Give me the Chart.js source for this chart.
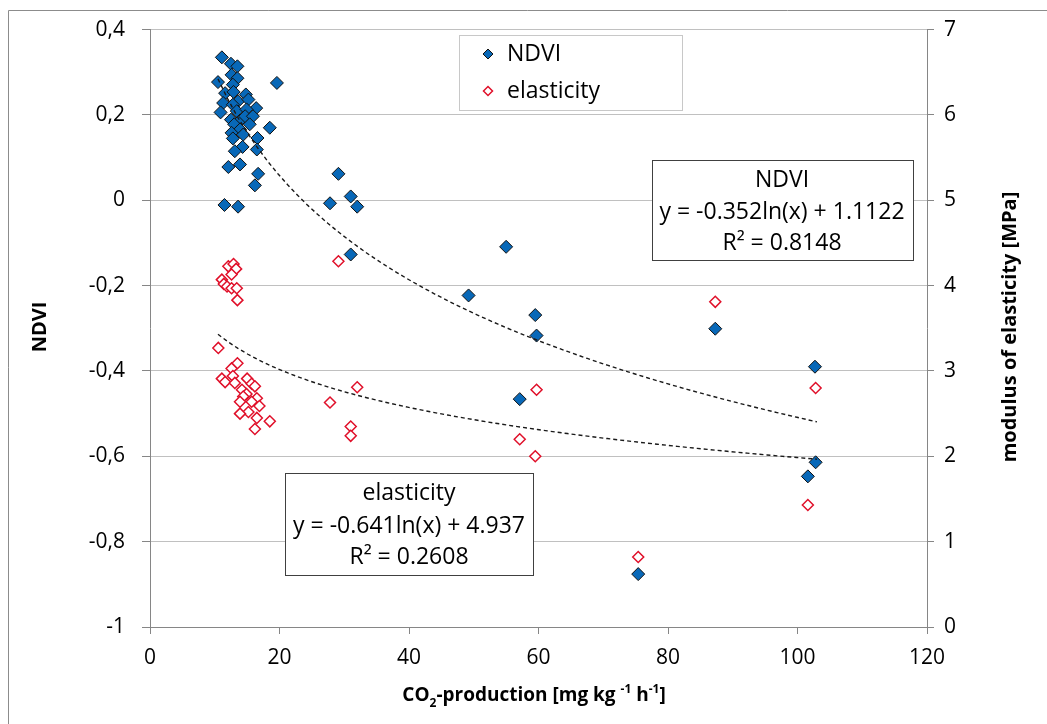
<!DOCTYPE html>
<html>
<head>
<meta charset="utf-8">
<script src="https://cdn.jsdelivr.net/npm/chart.js@4"></script>
<style>
  html, body { margin: 0; padding: 0; background: #fff; }
  #wrap { width: 1047px; height: 724px; position: relative; }
</style>
</head>
<body>
<div id="wrap"><canvas id="c" width="1047" height="724"></canvas></div>
<script>
'use strict';

const FONT = "'Open Sans', Lato, 'Liberation Sans', sans-serif";

// NDVI series: [CO2-production, NDVI]
const ndviPoints = [
  [11.1,0.335],[12.5,0.32],[13.5,0.314],[12.6,0.294],[13.5,0.286],[10.5,0.277],[19.6,0.275],
  [12.8,0.271],[11.6,0.251],[12.9,0.254],[14.8,0.248],[13.6,0.232],[15.2,0.236],[11.3,0.228],
  [12.8,0.224],[16.4,0.216],[10.9,0.206],[13.4,0.209],[14.9,0.213],[12.5,0.189],[13.9,0.187],
  [14.7,0.197],[15.9,0.197],[18.5,0.170],[13.0,0.178],[15.4,0.178],[13.9,0.166],[12.6,0.158],
  [14.4,0.154],[12.8,0.145],[16.6,0.146],[14.3,0.125],[16.5,0.119],[13.1,0.115],[13.9,0.084],
  [12.1,0.078],[16.7,0.062],[16.2,0.035],[11.5,-0.011],[13.6,-0.015],
  [29.1,0.062],[31.0,0.009],[27.8,-0.007],[32.0,-0.015],[31.0,-0.127],[55.0,-0.109],
  [49.2,-0.223],[59.5,-0.269],[59.7,-0.317],[57.1,-0.466],
  [87.3,-0.301],[102.7,-0.390],[102.8,-0.614],[101.6,-0.647],[75.4,-0.876]
];

// elasticity series: [CO2-production, modulus of elasticity MPa]
const elastPoints = [
  [12.1,4.226],[12.9,4.254],[13.3,4.196],[12.6,4.13],[11.1,4.07],[11.4,4.02],[11.9,3.99],
  [12.6,3.97],[13.4,3.97],[13.5,3.83],
  [10.55,3.27],[13.5,3.09],[12.6,3.03],[11.1,2.91],[11.6,2.87],[12.8,2.94],[13.1,2.86],
  [15.0,2.91],[15.7,2.85],[16.2,2.82],[14.2,2.78],[14.9,2.73],[14.4,2.70],[16.5,2.68],
  [13.9,2.64],[15.7,2.64],[16.9,2.59],[15.2,2.52],[13.9,2.50],[16.5,2.45],[18.5,2.41],[16.2,2.32],
  [29.1,4.285],[32.0,2.81],[27.8,2.63],[31.0,2.35],[31.0,2.24],[59.7,2.78],[57.1,2.20],[59.5,2.0],
  [87.3,3.81],[102.8,2.80],[101.6,1.43],[75.4,0.82]
];

// logarithmic trendlines as printed on the chart: y = a*ln(x) + b
const ndviTrend = [-0.352, 1.1122];
const elastTrend = [-0.641, 4.937];
const trendRange = [10.5, 103];

const xTicks = [0, 120, 20];
const yTicks = [-1, 0.4, 0.2];
const y2Ticks = [0, 7, 1];

function trendLine(coef) {
  const pts = [];
  for (let i = 0; i <= 60; i++) {
    const x = trendRange[0] + (trendRange[1] - trendRange[0]) * i / 60;
    pts.push({ x, y: coef[0] * Math.log(x) + coef[1] });
  }
  return pts;
}

const toXY = arr => arr.map(p => ({ x: p[0], y: p[1] }));
const commaNum = v => String(Math.round(v * 10) / 10).replace('.', ',');

function diamond(ctx, x, y, r, fill, stroke, lw) {
  ctx.beginPath();
  ctx.moveTo(x, y - r); ctx.lineTo(x + r, y); ctx.lineTo(x, y + r); ctx.lineTo(x - r, y);
  ctx.closePath();
  ctx.fillStyle = fill; ctx.fill();
  ctx.lineWidth = lw; ctx.strokeStyle = stroke; ctx.stroke();
}

function textBox(ctx, x, y, w, h, lines, cx, ys) {
  ctx.fillStyle = '#fff';
  ctx.fillRect(x, y, w, h);
  ctx.strokeStyle = '#404040'; ctx.lineWidth = 1;
  ctx.strokeRect(x + 0.5, y + 0.5, w, h);
  ctx.fillStyle = '#000';
  ctx.font = `23px ${FONT}`;
  ctx.textAlign = 'center'; ctx.textBaseline = 'middle';
  lines.forEach((t, i) => ctx.fillText(t, cx, ys[i]));
}

/* ── Overlay: frame, legend, equation boxes, axis titles ── */
const overlay = {
  id: 'overlay',
  afterDraw(chart) {
    const ctx = chart.ctx;
    ctx.save();

    // outer frame
    ctx.strokeStyle = '#8c8c8c'; ctx.lineWidth = 1;
    ctx.beginPath();
    ctx.moveTo(8.5, 724); ctx.lineTo(8.5, 10.5); ctx.lineTo(1047, 10.5);
    ctx.stroke();

    // legend
    ctx.fillStyle = '#fff';
    ctx.fillRect(459, 35, 224, 75);
    ctx.strokeStyle = '#c8c8c8';
    ctx.strokeRect(459.5, 35.5, 223, 75);
    diamond(ctx, 488, 54, 5, '#0868b8', '#111', 1);
    diamond(ctx, 488, 91, 4.5, '#fff', '#e0102a', 1.5);
    ctx.fillStyle = '#000';
    ctx.font = `23px ${FONT}`;
    ctx.textAlign = 'left'; ctx.textBaseline = 'middle';
    ctx.fillText('NDVI', 507, 54);
    ctx.fillText('elasticity', 507, 91);

    // equation boxes
    textBox(ctx, 652, 160, 261, 100,
      ['NDVI', 'y = -0.352ln(x) + 1.1122', 'R\u00b2 = 0.8148'], 782, [180, 212, 243]);
    textBox(ctx, 285, 473, 248, 102,
      ['elasticity', 'y = -0.641ln(x) + 4.937', 'R\u00b2 = 0.2608'], 409, [493, 526, 557]);

    // axis titles
    ctx.fillStyle = '#000';
    ctx.font = `bold 20px ${FONT}`;
    ctx.textAlign = 'center'; ctx.textBaseline = 'middle';
    ctx.save();
    ctx.translate(40, 327); ctx.rotate(-Math.PI / 2);
    ctx.fillText('NDVI', 0, 0);
    ctx.restore();
    ctx.save();
    ctx.translate(1010, 327); ctx.rotate(-Math.PI / 2);
    ctx.fillText('modulus of elasticity [MPa]', 0, 0);
    ctx.restore();

    // x title with sub/superscripts
    const big = `bold 19px ${FONT}`, small = `bold 12px ${FONT}`;
    const parts = [
      ['CO', big, 0], ['2', small, 6], ['-production [mg kg ', big, 0], ['-1', small, -8],
      [' h', big, 0], ['-1', small, -8], [']', big, 0]
    ];
    let total = 0;
    parts.forEach(p => { ctx.font = p[1]; total += ctx.measureText(p[0]).width; });
    let x = 534 - total / 2;
    ctx.textAlign = 'left'; ctx.textBaseline = 'alphabetic';
    parts.forEach(p => {
      ctx.font = p[1];
      ctx.fillText(p[0], x, 701 + p[2]);
      x += ctx.measureText(p[0]).width;
    });

    ctx.restore();
  }
};

const axisGrey = '#868686';

new Chart(document.getElementById('c').getContext('2d'), {
  type: 'scatter',
  data: {
    datasets: [
      {
        label: 'NDVI', data: toXY(ndviPoints), yAxisID: 'y', order: 2,
        pointStyle: 'rectRot', pointRadius: 6.5, pointHoverRadius: 6.5,
        backgroundColor: '#0868b8', borderColor: '#111', borderWidth: 1,
      },
      {
        label: 'elasticity', data: toXY(elastPoints), yAxisID: 'y2', order: 3,
        pointStyle: 'rectRot', pointRadius: 5.5, pointHoverRadius: 5.5,
        backgroundColor: '#fff', borderColor: '#e0102a', borderWidth: 1.5,
      },
      {
        label: 'NDVI trend', data: trendLine(ndviTrend), yAxisID: 'y', order: 1,
        showLine: true, pointRadius: 0, borderColor: '#1a1a1a', borderWidth: 1.4,
        borderDash: [4, 3], fill: false, tension: 0,
      },
      {
        label: 'elasticity trend', data: trendLine(elastTrend), yAxisID: 'y2', order: 1,
        showLine: true, pointRadius: 0, borderColor: '#1a1a1a', borderWidth: 1.4,
        borderDash: [4, 3], fill: false, tension: 0,
      },
    ],
  },
  options: {
    responsive: false,
    animation: false,
    events: [],
    layout: { padding: { top: 28, left: 0, right: 0, bottom: 0 } },
    plugins: { legend: { display: false }, tooltip: { enabled: false } },
    scales: {
      x: {
        type: 'linear', position: 'bottom',
        min: xTicks[0], max: xTicks[1],
        afterFit: s => { s.height = 97; },
        border: { color: axisGrey, width: 1 },
        grid: { drawOnChartArea: false, drawTicks: true, tickLength: 7, tickColor: axisGrey },
        ticks: { stepSize: xTicks[2], padding: 11, color: '#000', font: { family: FONT, size: 21 }, maxRotation: 0 },
      },
      y: {
        type: 'linear', position: 'left',
        min: yTicks[0], max: yTicks[1],
        afterFit: s => { s.width = 150; },
        border: { color: axisGrey, width: 1 },
        grid: { color: '#c0c0c0', lineWidth: 1, drawTicks: true, tickLength: 8, tickColor: axisGrey },
        ticks: { stepSize: yTicks[2], padding: 17, color: '#000', font: { family: FONT, size: 21 },
                 callback: v => commaNum(v) },
      },
      y2: {
        type: 'linear', position: 'right',
        min: y2Ticks[0], max: y2Ticks[1],
        afterFit: s => { s.width = 120; },
        border: { color: axisGrey, width: 1 },
        grid: { drawOnChartArea: false, drawTicks: true, tickLength: 7, tickColor: axisGrey },
        ticks: { stepSize: y2Ticks[2], padding: 10, color: '#000', font: { family: FONT, size: 21 } },
      },
    },
  },
  plugins: [overlay],
});
</script>
</body>
</html>
